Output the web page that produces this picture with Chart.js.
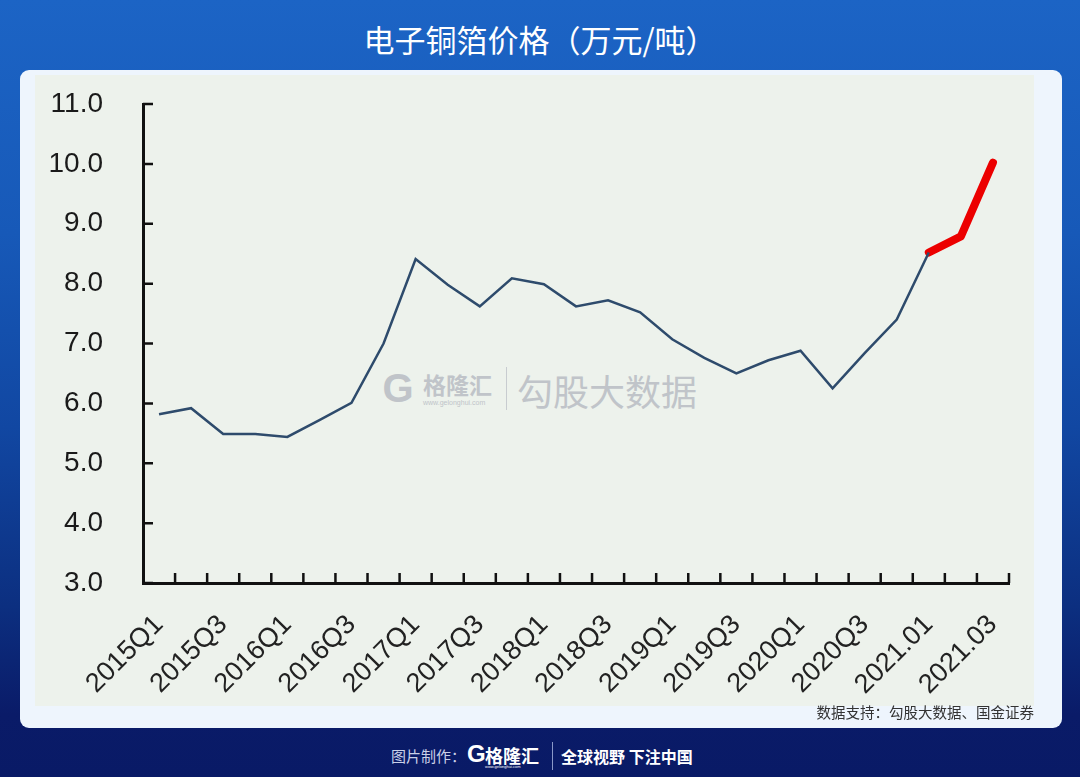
<!DOCTYPE html>
<html lang="zh">
<head>
    <meta charset="UTF-8">
    <title>电子铜箔价格</title>
    <script src="https://cdn.jsdelivr.net/npm/chart.js"></script>
    <style>
        body {
            margin: 0;
            width: 1080px;
            height: 777px;
            overflow: hidden;
            position: relative;
            font-family: 'Noto Sans CJK SC', 'Noto Sans', sans-serif;
            background: linear-gradient(to bottom, #1c64c5 0%, #1759b8 30%, #1147a2 55%, #0c2f80 78%, #0a1b68 92%, #091a66 100%);
        }
        #titre {
            position: absolute;
            left: 0;
            width: 1080px;
            top: 17px;
            text-align: center;
            color: #fff;
            font-size: 31px;
            line-height: 44px;
            font-weight: 400;
        }
        #carte {
            position: absolute;
            left: 20px;
            top: 70px;
            width: 1042px;
            height: 658px;
            background-color: #eef5fd;
            border-radius: 9px;
        }
        #fond {
            position: absolute;
            left: 35px;
            top: 75px;
            width: 999px;
            height: 631px;
            background-color: #edf2ec;
        }
        #graph {
            position: absolute;
            left: 35px;
            top: 75px;
            width: 999px;
            height: 631px;
        }
        #filigrane {
            position: absolute;
            left: 382px;
            top: 366px;
            height: 46px;
            color: #c0c4c9;
        }
        #filigrane .g {
            position: absolute;
            left: 0;
            top: 6px;
            width: 32px;
            height: 32px;
            font: bold 40px 'Liberation Sans', sans-serif;
            line-height: 32px;
            text-align: center;
        }
        #filigrane .nom {
            position: absolute;
            left: 41px;
            top: 3px;
            font-size: 23px;
            line-height: 30px;
            font-weight: bold;
            white-space: nowrap;
        }
        #filigrane .url {
            position: absolute;
            left: 41px;
            top: 33px;
            font: 7px 'Liberation Sans', sans-serif;
            white-space: nowrap;
        }
        #filigrane .trait {
            position: absolute;
            left: 124px;
            top: 1px;
            width: 1px;
            height: 43px;
            background-color: #c8ccd0;
        }
        #filigrane .source {
            position: absolute;
            left: 135px;
            top: 1px;
            font-size: 36px;
            line-height: 46px;
            white-space: nowrap;
        }
        #source {
            position: absolute;
            right: 46px;
            top: 702px;
            font-size: 14.5px;
            line-height: 20px;
            color: #333;
        }
        #pied {
            position: absolute;
            top: 740px;
            left: 0;
            width: 1080px;
            height: 30px;
            color: #fff;
        }
        #pied span {
            position: absolute;
            white-space: nowrap;
        }
    </style>
</head>
<body>
    <div id="titre">电子铜箔价格（万元/吨）</div>
    <div id="carte"></div>
    <div id="fond"></div>
    <div id="filigrane">
        <div class="g">G</div>
        <div class="nom">格隆汇</div>
        <div class="url">www.gelonghui.com</div>
        <div class="trait"></div>
        <div class="source">勾股大数据</div>
    </div>
    <canvas id="graph" width="999" height="631"></canvas>
    <div id="source">数据支持：勾股大数据、国金证券</div>
    <div id="pied">
        <span style="left:391px; top:5px; font-size:15px; color:#c9d0e8;">图片制作：</span>
        <span style="left:467px; top:0px; font:bold 24px 'Liberation Sans', sans-serif;">G</span>
        <span style="left:485px; top:2px; font-size:18px; font-weight:bold;">格隆汇</span>
        <span style="left:485px; top:24px; font:4px 'Liberation Sans', sans-serif;">www.gelonghui.com</span>
        <span style="left:552px; top:2px; width:1px; height:28px; background:#8a98c8;"></span>
        <span style="left:561px; top:4px; font-size:16px; font-weight:bold;">全球视野 下注中国</span>
    </div>

    <script>
        // catégories : trimestres puis mois de 2021
        const periodes = [
            '2015Q1', '2015Q2', '2015Q3', '2015Q4',
            '2016Q1', '2016Q2', '2016Q3', '2016Q4',
            '2017Q1', '2017Q2', '2017Q3', '2017Q4',
            '2018Q1', '2018Q2', '2018Q3', '2018Q4',
            '2019Q1', '2019Q2', '2019Q3', '2019Q4',
            '2020Q1', '2020Q2', '2020Q3', '2020Q4',
            '2021.01', '2021.02', '2021.03'
        ];
        const prix = [
            5.82, 5.92, 5.49, 5.49, 5.44, 5.72, 6.01, 7.0,
            8.41, 7.98, 7.62, 8.09, 7.99, 7.62, 7.72, 7.52,
            7.07, 6.76, 6.50, 6.72, 6.88, 6.25, 6.84, 7.40,
            8.52, 8.79, 10.02
        ];
        const debutRouge = 24; // la partie rouge commence en 2021.01
        const yTicks = [3, 4, 5, 6, 7, 8, 9, 10, 11];

        const serieBleue = prix.map((v, i) => i <= debutRouge ? v : null);
        const serieRouge = prix.map((v, i) => i >= debutRouge ? v : null);

        // petites graduations tournées vers l'intérieur
        const graduations = {
            id: 'graduations',
            afterDatasetsDraw(chart) {
                const ctx = chart.ctx;
                const x = chart.scales.x;
                const y = chart.scales.y;
                const area = chart.chartArea;
                ctx.save();
                ctx.strokeStyle = '#111';
                ctx.lineWidth = 2.5;
                ctx.beginPath();
                yTicks.forEach(v => {
                    const py = y.getPixelForValue(v);
                    ctx.moveTo(area.left, py);
                    ctx.lineTo(area.left + 10, py);
                });
                const pas = x.getPixelForValue(1) - x.getPixelForValue(0);
                for (let i = 1; i <= periodes.length; i++) {
                    const px = x.getPixelForValue(i) - pas / 2;
                    ctx.moveTo(px, area.bottom);
                    ctx.lineTo(px, area.bottom - 10);
                }
                ctx.stroke();
                ctx.restore();
            }
        };

        // marques invisibles : elles servent seulement à écarter les libellés de l'axe
        const marquesCachees = (longueur) => ({
            display: true,
            drawOnChartArea: false,
            drawTicks: true,
            tickLength: longueur,
            tickColor: 'rgba(0,0,0,0)'
        });

        const ctx = document.getElementById('graph').getContext('2d');
        new Chart(ctx, {
            type: 'line',
            data: {
                labels: periodes,
                datasets: [{
                    data: serieBleue,
                    borderColor: '#2e4b6c',
                    borderWidth: 2.5,
                    pointRadius: 0,
                    tension: 0,
                    spanGaps: false
                }, {
                    data: serieRouge,
                    borderColor: '#ec0000',
                    borderWidth: 8,
                    borderCapStyle: 'round',
                    borderJoinStyle: 'round',
                    pointRadius: 0,
                    tension: 0
                }]
            },
            options: {
                responsive: false,
                animation: false,
                layout: {
                    padding: { top: 29, right: 25, left: 0, bottom: 0 }
                },
                plugins: {
                    legend: { display: false },
                    tooltip: { enabled: false }
                },
                scales: {
                    x: {
                        offset: true,
                        grid: Object.assign(marquesCachees(18), { offset: true }),
                        border: { display: true, color: '#111', width: 3 },
                        ticks: {
                            autoSkip: false,
                            minRotation: 45,
                            maxRotation: 45,
                            padding: 8,
                            color: '#222',
                            font: { family: "'Liberation Sans', Arial, sans-serif", size: 27 },
                            callback: function(val, i) {
                                return i % 2 === 0 ? periodes[i] : '';
                            }
                        },
                        afterFit: function(scale) { scale.height = 123; }
                    },
                    y: {
                        min: 3,
                        max: 11,
                        grid: marquesCachees(37),
                        border: { display: true, color: '#111', width: 3 },
                        ticks: {
                            stepSize: 1,
                            padding: 3,
                            color: '#1a1a1a',
                            font: { family: "'Liberation Sans', Arial, sans-serif", size: 28 },
                            callback: function(val) { return val.toFixed(1); }
                        },
                        afterFit: function(scale) { scale.width = 108; }
                    }
                }
            },
            plugins: [graduations]
        });
    </script>
</body>
</html>
